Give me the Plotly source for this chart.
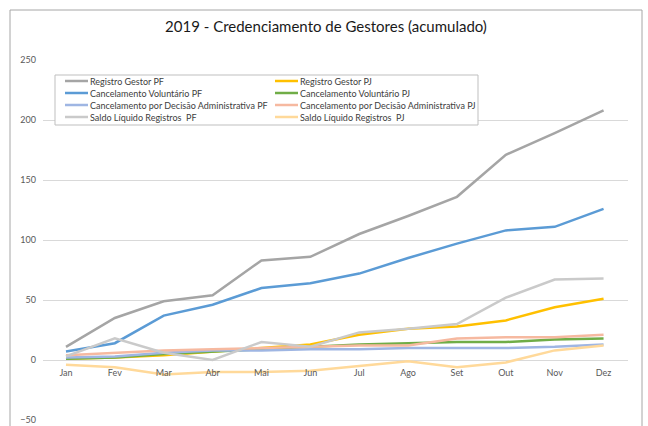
import plotly.graph_objects as go

# dados (acumulado 2019)
meses = ["Jan", "Fev", "Mar", "Abr", "Mai", "Jun", "Jul", "Ago", "Set", "Out", "Nov", "Dez"]

registro_pf = [11, 35, 49, 54, 83, 86, 105, 120, 136, 171, 189, 208]
registro_pj = [1, 2, 4, 7, 10, 13, 21, 26, 28, 33, 44, 51]
cancel_vol_pf = [7, 14, 37, 46, 60, 64, 72, 85, 97, 108, 111, 126]
cancel_vol_pj = [1, 2, 5, 7, 9, 11, 13, 14, 15, 15, 17, 18]
cancel_adm_pf = [2, 3, 6, 8, 8, 9, 9, 10, 10, 10, 11, 13]
cancel_adm_pj = [4, 6, 8, 9, 10, 11, 12, 12, 18, 19, 19, 21]
saldo_pf = [3, 18, 6, 0, 15, 11, 23, 26, 30, 52, 67, 68]
saldo_pj = [-4, -6, -12, -10, -10, -9, -5, -1, -6, -2, 8, 12]

series = [
    ("Registro Gestor PF", registro_pf, "#A5A5A5"),
    ("Registro Gestor PJ", registro_pj, "#FFC000"),
    ("Cancelamento Voluntário PF", cancel_vol_pf, "#5B9BD5"),
    ("Cancelamento Voluntário PJ", cancel_vol_pj, "#70AD47"),
    ("Cancelamento por Decisão Administrativa PF", cancel_adm_pf, "#9FB6E3"),
    ("Cancelamento por Decisão Administrativa PJ", cancel_adm_pj, "#F6B9A0"),
    ("Saldo Líquido Registros  PF", saldo_pf, "#CACACA"),
    ("Saldo Líquido Registros  PJ", saldo_pj, "#FFD99A"),
]

W, H = 648, 426
# área do gráfico (pixels)
X0, X1, Y0, Y1 = 43, 628, 60, 420
ML, MR, MT, MB = X0, W - X1, Y0, H - Y1
PW, PH = X1 - X0, Y1 - Y0


def px(x):
    return (x - X0) / PW


def py(y):
    return (Y1 - y) / PH


FONT = "Lato, 'Open Sans', sans-serif"

fig = go.Figure()
for nome, valores, cor in series:
    fig.add_trace(go.Scatter(
        x=meses, y=valores, name=nome, mode="lines",
        line=dict(color=cor, width=2.5), showlegend=False
    ))

# legenda desenhada à mão (2 colunas, linhas compactas como no Excel)
shapes = [dict(type="rect", xref="paper", yref="paper",
               x0=px(55), x1=px(478), y0=py(125), y1=py(75),
               line=dict(color="#BFBFBF", width=1), fillcolor="white", layer="above")]
annotations = []
linhas_y = [81, 93, 105, 117]
colunas_x = [(65, 88), (275, 298)]
for i, (nome, valores, cor) in enumerate(series):
    lx0, lx1 = colunas_x[i % 2]
    ly = linhas_y[i // 2]
    shapes.append(dict(type="line", xref="paper", yref="paper",
                       x0=px(lx0), x1=px(lx1), y0=py(ly), y1=py(ly),
                       line=dict(color=cor, width=2.5), layer="above"))
    annotations.append(dict(text=nome, xref="paper", yref="paper",
                            x=px(lx1), y=py(ly), xanchor="left", yanchor="middle",
                            showarrow=False, font=dict(size=9, color="#404040", family=FONT)))

# moldura do gráfico
shapes.append(dict(type="rect", xref="paper", yref="paper",
                   x0=px(10), x1=px(642), y0=py(440), y1=py(10),
                   line=dict(color="#A6A6A6", width=1), layer="below"))

fig.update_layout(
    width=W, height=H,
    margin=dict(l=ML, r=MR, t=MT, b=MB, pad=0, autoexpand=False),
    paper_bgcolor="white", plot_bgcolor="white",
    title=dict(text="2019 - Credenciamento de Gestores (acumulado)",
               x=326 / W, xanchor="center", y=1 - 27 / H, yanchor="middle",
               font=dict(size=15, color="#1a1a1a", family=FONT)),
    font=dict(family=FONT),
    shapes=shapes,
    annotations=annotations,
    showlegend=False,
)
fig.update_yaxes(range=[-50, 250], dtick=50, showgrid=True, gridcolor="#D9D9D9",
                 zeroline=False, showline=False, ticks="", ticklabelstandoff=6,
                 automargin=False, tickfont=dict(size=9, color="#595959"))
fig.update_xaxes(type="category", range=[-0.47, 11.5], anchor="free", position=1 / 6,
                 showgrid=False, zeroline=False, showline=False, ticks="",
                 automargin=False, ticklabelstandoff=6, tickfont=dict(size=9, color="#595959"))

# sem margem no body, para a figura ocupar a janela toda
fig.write_html("out.html", config={"displayModeBar": False},
               post_script="document.body.style.margin='0';")
